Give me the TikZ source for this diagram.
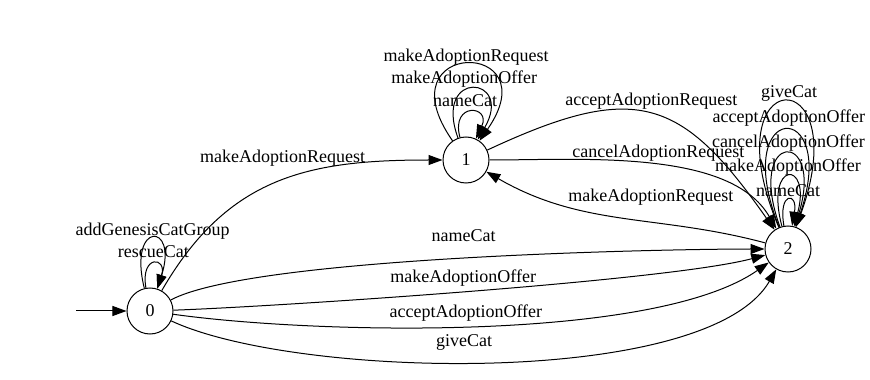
\documentclass[tikz,border=0pt]{standalone}
\usepackage{fontspec}
\setmainfont{Liberation Serif}
\usetikzlibrary{automata, positioning, arrows.meta}

\begin{document}
\begin{tikzpicture}[->, >={Triangle[length=14pt, width=10pt]}, on grid, auto,
    font=\fontsize{18}{21}\selectfont, line width=1pt,
    every state/.style={minimum size=46pt, inner sep=0pt},
    every loop/.style={},
    initial text=, initial distance=50pt,
    lbl/.style={inner sep=1pt, text height=12pt, text depth=4pt}]
  \useasboundingbox (-150pt,-69pt) rectangle (720pt,311pt);

  \node[state, initial] (s0) {0};
  \node[state, above right=151pt and 316pt of s0] (s1) {1};
  \node[state, below right=89pt and 322pt of s1] (s2) {2};

  % state 0
  \path (s0) edge[out=100, in=72, min distance=34pt] node[lbl, above=1pt] {rescueCat} (s0)
        (s0) edge[out=104, in=72, min distance=70pt] node[lbl, above=-3pt] {addGenesisCatGroup} (s0)
        (s0) edge[out=60, in=180, looseness=1.1] node[lbl, above=12pt, pos=0.52] {makeAdoptionRequest} (s1)
        (s0) edge[out=28, in=180, looseness=0.4] node[lbl, above=11pt] {nameCat} (s2)
        (s0) edge[out=2, in=195, looseness=0.43] node[lbl, above=4pt, pos=0.49] {makeAdoptionOffer} (s2)
        (s0) edge[out=-8, in=215, looseness=0.6] node[lbl, above=3pt, pos=0.48] {acceptAdoptionOffer} (s2)
        (s0) edge[out=-25, in=240, looseness=0.58] node[lbl, above=10pt, pos=0.46] {giveCat} (s2);

  % state 1
  \path (s1) edge[out=105, in=65, min distance=37pt] node[lbl, above=0pt, xshift=-5pt] {nameCat} (s1)
        (s1) edge[out=110, in=60, min distance=74pt] node[lbl, above=0pt, xshift=-8pt] {makeAdoptionOffer} (s1)
        (s1) edge[out=125, in=55, min distance=125pt] node[lbl, above=-3pt] {makeAdoptionRequest} (s1)
        (s1) edge[out=25, in=125, looseness=1.4] node[lbl, above=3pt] {acceptAdoptionRequest} (s2)
        (s1) edge[out=0, in=120, looseness=0.8] node[lbl, above=2pt, pos=0.525] {cancelAdoptionRequest} (s2);

  % state 2
  \path (s2) edge[out=165, in=-30] node[lbl, above=15pt, pos=0.39] {makeAdoptionRequest} (s1)
        (s2) edge[out=100, in=80, min distance=35pt] node[lbl, above=-2pt] {nameCat} (s2)
        (s2) edge[out=105, in=75, min distance=69pt] node[lbl, above=-1pt] {makeAdoptionOffer} (s2)
        (s2) edge[out=110, in=73, min distance=103pt] node[lbl, above=0pt, xshift=3pt] {cancelAdoptionOffer} (s2)
        (s2) edge[out=112, in=71, min distance=138pt] node[lbl, above=2pt, xshift=4pt] {acceptAdoptionOffer} (s2)
        (s2) edge[out=113, in=70, min distance=180pt] node[lbl, above=-1pt, xshift=5pt] {giveCat} (s2);
\end{tikzpicture}
\end{document}
